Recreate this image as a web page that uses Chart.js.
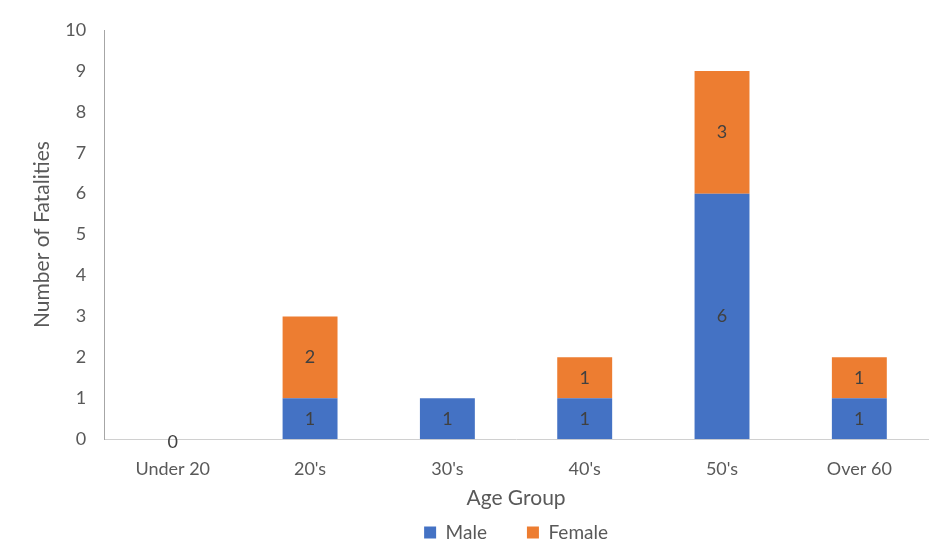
<!DOCTYPE html>
<html>
<head>
<meta charset="utf-8">
<script src="https://cdn.jsdelivr.net/npm/chart.js@4"></script>
<style>
  html, body { margin: 0; padding: 0; background: #fff; }
  #wrap { width: 937px; height: 555px; }
</style>
</head>
<body>
<div id="wrap"><canvas id="chart" width="937" height="555"></canvas></div>
<script>
const ageGroups = ["Under 20", "20's", "30's", "40's", "50's", "Over 60"];
const maleCounts = [0, 1, 1, 1, 6, 1];
const femaleCounts = [null, 2, null, 1, 3, 1];
const yTicks = [0, 1, 2, 3, 4, 5, 6, 7, 8, 9, 10];

const fontFamily = "Lato, 'Open Sans', sans-serif";
const textColor = '#595959';

// draws the value in the middle of each bar segment
const barLabels = {
    id: 'barLabels',
    afterDatasetsDraw(chart) {
        const ctx = chart.ctx;
        ctx.save();
        ctx.font = `18px ${fontFamily}`;
        ctx.fillStyle = '#404040';
        ctx.textAlign = 'center';
        ctx.textBaseline = 'middle';
        chart.data.datasets.forEach((ds, i) => {
            const meta = chart.getDatasetMeta(i);
            meta.data.forEach((bar, j) => {
                const v = ds.data[j];
                if (v === null || v === undefined) return;
                const y = (bar.y + bar.base) / 2;
                ctx.fillText(String(v), bar.x, v === 0 ? y + 3 : y);
            });
        });
        ctx.restore();
    }
};

new Chart(document.getElementById('chart'), {
    type: 'bar',
    data: {
        labels: ageGroups,
        datasets: [
            { label: 'Male', data: maleCounts, backgroundColor: '#4472C4' },
            { label: 'Female', data: femaleCounts, backgroundColor: '#ED7D31' }
        ]
    },
    options: {
        responsive: false,
        animation: false,
        datasets: { bar: { categoryPercentage: 1, barPercentage: 0.4 } },
        layout: { padding: { top: 30, right: 9, left: 30, bottom: 3 } },
        plugins: {
            tooltip: { enabled: false },
            legend: {
                position: 'bottom',
                fullSize: false,
                labels: {
                    boxWidth: 12,
                    boxHeight: 12,
                    padding: 40,
                    color: textColor,
                    font: { family: fontFamily, size: 19 }
                }
            }
        },
        scales: {
            x: {
                stacked: true,
                grid: { display: false },
                border: { display: true, color: '#d0d0d0', width: 1 },
                ticks: { color: textColor, font: { family: fontFamily, size: 18 }, padding: 11 },
                title: {
                    display: true,
                    text: 'Age Group',
                    color: textColor,
                    font: { family: fontFamily, size: 21 },
                    padding: { top: -5, bottom: -28 }
                }
            },
            y: {
                stacked: true,
                min: 0,
                max: 10,
                afterBuildTicks: axis => { axis.ticks = yTicks.map(v => ({ value: v })); },
                grid: { display: false },
                border: { display: true, color: '#a6a6a6', width: 1 },
                ticks: { color: textColor, font: { family: fontFamily, size: 18 }, padding: 10 },
                title: {
                    display: true,
                    text: 'Number of Fatalities',
                    color: textColor,
                    font: { family: fontFamily, size: 21 },
                    padding: { top: 0, bottom: 0 }
                }
            }
        }
    },
    plugins: [barLabels]
});
</script>
</body>
</html>
